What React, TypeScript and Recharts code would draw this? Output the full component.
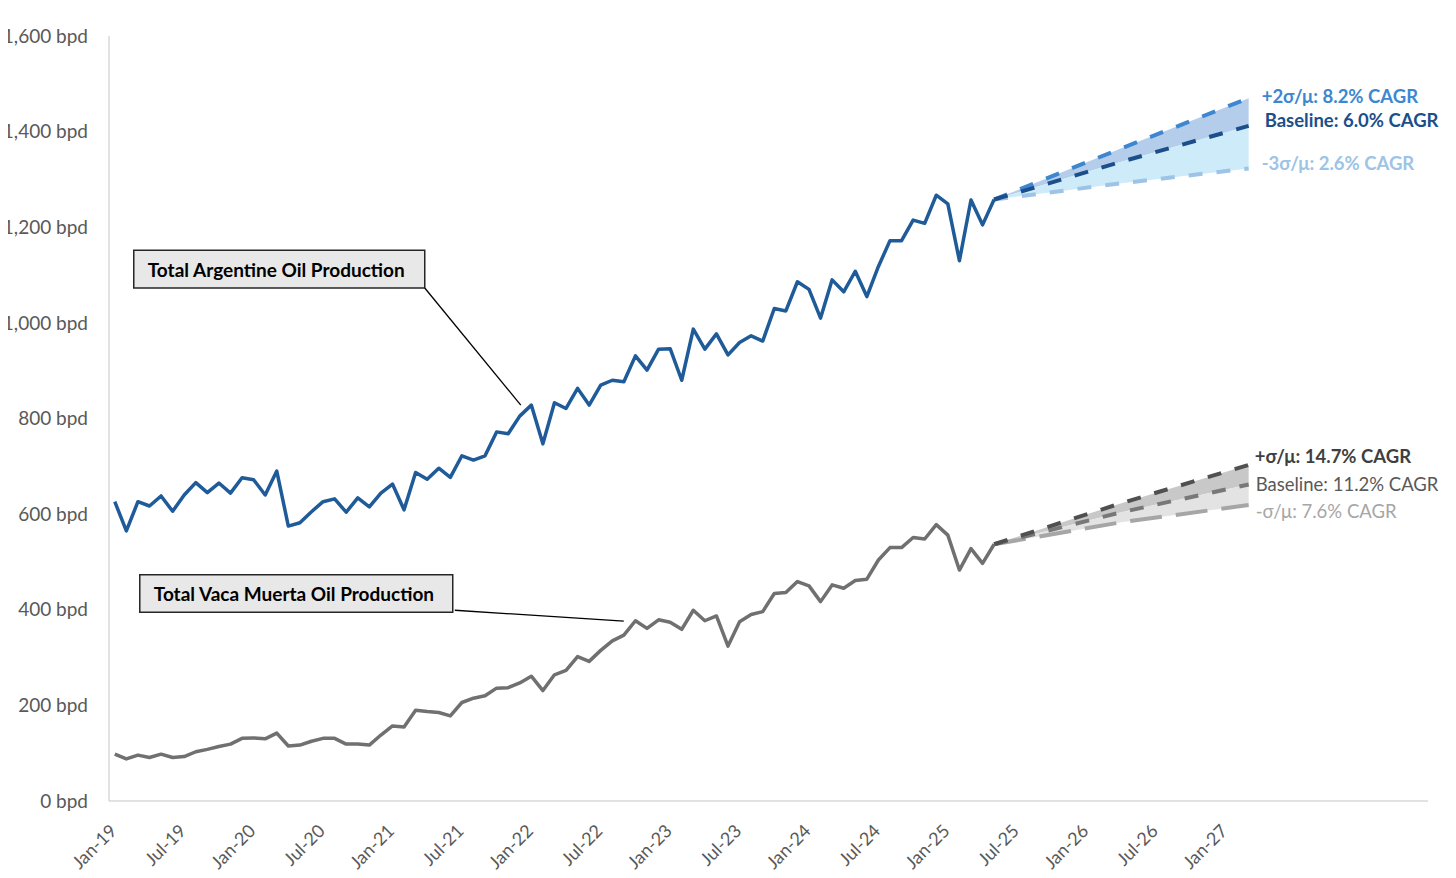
import React from "react"
import {
  ComposedChart,
  Line,
  Area,
  XAxis,
  YAxis,
  ReferenceArea,
  ReferenceLine,
  ReferenceDot,
} from "recharts"

// monthly production, Jan-19 .. May-25 (kbpd)
const totalArgentina = [
  626, 565, 626, 617, 638, 606, 640, 666, 645, 665, 644, 676, 672, 640, 690, 575, 582, 605, 626, 632,
  604, 634, 615, 644, 663, 609, 687, 673, 696, 677, 722, 713, 722, 772, 768, 805, 828, 747, 833, 821,
  863, 828, 870, 880, 877, 931, 901, 945, 946, 880, 987, 945, 977, 933, 959, 973, 962, 1030, 1025, 1086,
  1070, 1010, 1090, 1065, 1108, 1055, 1118, 1172, 1172, 1215, 1208, 1267, 1249, 1130, 1257, 1205, 1258,
]
const vacaMuerta = [
  98, 88, 96, 91, 98, 91, 93, 103, 108, 114, 119, 131, 132, 130, 142, 115, 117, 125, 131, 131,
  119, 119, 117, 138, 157, 155, 190, 187, 185, 178, 206, 215, 220, 236, 237, 247, 261, 231, 264, 273,
  302, 292, 315, 335, 347, 377, 361, 379, 374, 359, 399, 377, 387, 324, 375, 390, 396, 434, 436, 459,
  450, 417, 452, 445, 461, 464, 504, 530, 530, 551, 548, 578, 556, 483, 528, 497, 537,
]

// forecast scenarios, read at May-25, Apr-26, Mar-27
const forecastIdx = [76, 87, 98]
const argUp = [1258, 1365, 1470]
const argBase = [1258, 1337, 1412]
const argLow = [1258, 1292, 1323]
const vmUp = [537, 623, 703]
const vmBase = [537, 604, 662]
const vmLow = [537, 583, 619]

const tickLabels = [
  "Jan-19", "Jul-19", "Jan-20", "Jul-20", "Jan-21", "Jul-21", "Jan-22", "Jul-22", "Jan-23",
  "Jul-23", "Jan-24", "Jul-24", "Jan-25", "Jul-25", "Jan-26", "Jul-26", "Jan-27",
]
const yTicks = [0, 200, 400, 600, 800, 1000, 1200, 1400, 1600]

const rows = totalArgentina.map((v, i) => ({ i, total: v, vm: vacaMuerta[i] }))
const argForecast = forecastIdx.map((i, k) => ({ i, up: argUp[k], base: argBase[k], low: argLow[k] }))
const vmForecast = forecastIdx.map((i, k) => ({ i, up: vmUp[k], base: vmBase[k], low: vmLow[k] }))

const FONT = "Lato, 'Open Sans', sans-serif"

const XTick = (props: any) => {
  const { x, y, payload } = props
  const label = tickLabels[Math.round(payload.value / 6)]
  return (
    <g transform={`translate(${x + 3},${y + 31})`}>
      <text textAnchor="end" transform="rotate(-45)" fill="#595959" fontSize={18} fontFamily={FONT}>
        {label}
      </text>
    </g>
  )
}

const EndLabel = (props: any) => {
  const { viewBox, text, color, weight, dx } = props
  if (!viewBox) return null
  return (
    <text
      x={viewBox.x + dx}
      y={viewBox.y}
      dominantBaseline="central"
      fill={color}
      fontWeight={weight}
      fontSize={18.5}
      fontFamily={FONT}
    >
      {text}
    </text>
  )
}

const BoxLabel = (props: any) => {
  const { viewBox, text } = props
  if (!viewBox) return null
  return (
    <text
      x={viewBox.x + 14}
      y={viewBox.y + viewBox.height / 2}
      dominantBaseline="central"
      fill="#000"
      fontWeight={700}
      fontSize={19}
      fontFamily={FONT}
    >
      {text}
    </text>
  )
}

export default function App() {
  return (
    <div style={{ width: 1456, height: 878, margin: -8 }}>
      <ComposedChart
        width={1456}
        height={878}
        data={rows}
        margin={{ top: 36, right: 28, left: 0, bottom: 0 }}
      >
        <XAxis
          type="number"
          dataKey="i"
          domain={[-0.5, 113.5]}
          allowDataOverflow
          ticks={tickLabels.map((_, k) => k * 6)}
          interval={0}
          tick={<XTick />}
          tickLine={false}
          tickSize={0}
          tickMargin={0}
          height={77}
          axisLine={{ stroke: "#d9d9d9", strokeWidth: 1.5 }}
        />
        <YAxis
          domain={[0, 1600]}
          ticks={yTicks}
          interval={0}
          width={109}
          tickLine={false}
          tickSize={0}
          tickMargin={21}
          axisLine={{ stroke: "#d9d9d9", strokeWidth: 1.5 }}
          tick={{ fill: "#595959", fontSize: 19, fontFamily: FONT }}
          tickFormatter={(v: number) => `${v.toLocaleString("en-US")} bpd`}
        />

        <Area data={argForecast} dataKey={(d: any) => [d.base, d.up]} type="linear" stroke="none" fill="#B4CDEB" fillOpacity={1} isAnimationActive={false} dot={false} activeDot={false} />
        <Area data={argForecast} dataKey={(d: any) => [d.low, d.base]} type="linear" stroke="none" fill="#CDEBF9" fillOpacity={1} isAnimationActive={false} dot={false} activeDot={false} />
        <Area data={vmForecast} dataKey={(d: any) => [d.base, d.up]} type="linear" stroke="none" fill="#C8C8C8" fillOpacity={1} isAnimationActive={false} dot={false} activeDot={false} />
        <Area data={vmForecast} dataKey={(d: any) => [d.low, d.base]} type="linear" stroke="none" fill="#E3E3E3" fillOpacity={1} isAnimationActive={false} dot={false} activeDot={false} />

        <Line data={argForecast} dataKey="low" type="linear" stroke="#9DC3E6" strokeWidth={4} strokeDasharray="14 14" dot={false} activeDot={false} isAnimationActive={false} />
        <Line data={argForecast} dataKey="up" type="linear" stroke="#3D87D0" strokeWidth={4} strokeDasharray="14 14" dot={false} activeDot={false} isAnimationActive={false} />
        <Line data={argForecast} dataKey="base" type="linear" stroke="#1C4F8A" strokeWidth={4} strokeDasharray="14 14" dot={false} activeDot={false} isAnimationActive={false} />
        <Line data={vmForecast} dataKey="low" type="linear" stroke="#A6A6A6" strokeWidth={4} strokeDasharray="32 14" dot={false} activeDot={false} isAnimationActive={false} />
        <Line data={vmForecast} dataKey="base" type="linear" stroke="#787878" strokeWidth={4} strokeDasharray="14 14" dot={false} activeDot={false} isAnimationActive={false} />
        <Line data={vmForecast} dataKey="up" type="linear" stroke="#505050" strokeWidth={4} strokeDasharray="14 14" dot={false} activeDot={false} isAnimationActive={false} />

        <Line dataKey="total" type="linear" stroke="#1F5A99" strokeWidth={3.5} strokeLinejoin="round" dot={false} activeDot={false} isAnimationActive={false} />
        <Line dataKey="vm" type="linear" stroke="#707070" strokeWidth={3.5} strokeLinejoin="round" dot={false} activeDot={false} isAnimationActive={false} />

        <ReferenceArea x1={1.64} x2={26.79} y1={1073} y2={1152} fill="#E8E8E8" fillOpacity={1} stroke="#262626" strokeWidth={1.5} label={<BoxLabel text="Total Argentine Oil Production" />} />
        <ReferenceLine segment={[{ x: 26.79, y: 1073 }, { x: 35.09, y: 828 }]} stroke="#000" strokeWidth={1.3} />
        <ReferenceArea x1={2.16} x2={29.21} y1={395} y2={473} fill="#E8E8E8" fillOpacity={1} stroke="#262626" strokeWidth={1.5} label={<BoxLabel text="Total Vaca Muerta Oil Production" />} />
        <ReferenceLine segment={[{ x: 29.39, y: 399 }, { x: 43.99, y: 376 }]} stroke="#000" strokeWidth={1.3} />

        <ReferenceDot x={98} y={1475} r={0} stroke="none" label={<EndLabel text="+2σ/μ: 8.2% CAGR" color="#3D87D0" weight={700} dx={13} />} />
        <ReferenceDot x={98} y={1424} r={0} stroke="none" label={<EndLabel text="Baseline: 6.0% CAGR" color="#1C4F8A" weight={700} dx={16} />} />
        <ReferenceDot x={98} y={1334} r={0} stroke="none" label={<EndLabel text="-3σ/μ: 2.6% CAGR" color="#9DC3E6" weight={700} dx={13} />} />
        <ReferenceDot x={98} y={722} r={0} stroke="none" label={<EndLabel text="+σ/μ: 14.7% CAGR" color="#3F3F3F" weight={700} dx={6} />} />
        <ReferenceDot x={98} y={663} r={0} stroke="none" label={<EndLabel text="Baseline: 11.2% CAGR" color="#595959" weight={400} dx={7} />} />
        <ReferenceDot x={98} y={607} r={0} stroke="none" label={<EndLabel text="-σ/μ: 7.6% CAGR" color="#A6A6A6" weight={400} dx={7} />} />
      </ComposedChart>
    </div>
  )
}
